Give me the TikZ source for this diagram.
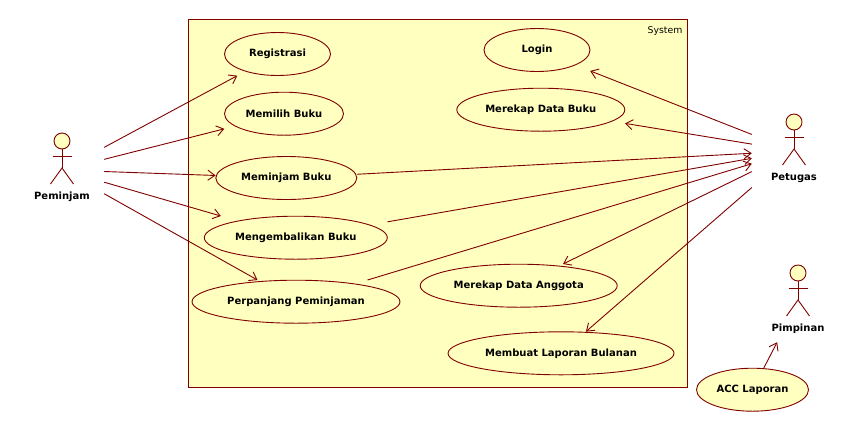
\documentclass[tikz,border=0pt]{standalone}
\usepackage{fontspec}
\setmainfont{DejaVu Sans}
\usetikzlibrary{calc,arrows.meta}
\definecolor{umlline}{RGB}{128,0,0}
\definecolor{umlfill}{RGB}{255,255,192}
\tikzset{
	ucshape/.style={draw=umlline, fill=umlfill, line width=0.9pt},
	ucbox/.style={rectangle, minimum height=43pt, inner sep=0pt, font=\fontsize{10}{12}\selectfont\bfseries},
	actor/.style={rectangle, minimum width=84pt, minimum height=80pt, inner sep=0pt},
	actorname/.style={inner sep=0pt, font=\fontsize{10}{12}\selectfont\bfseries},
	assoc/.style={draw=umlline, line width=0.9pt, -{Straight Barb[length=7pt,width=10pt]}}
}
\def\usecase(#1)(#2)(#3)#4{
	\draw[ucshape] (#2) ellipse ({#3*0.5pt} and 21.5pt);
	\node[ucbox, minimum width=#3pt] (#1) at (#2) {#4};
}
\def\stickman(#1){
	\draw[umlline, line width=0.9pt, fill=umlfill] ($(#1)+(0,-29)$) circle (8pt);
	\draw[umlline, line width=0.9pt] ($(#1)+(0,-21)$) -- ($(#1)+(0,-2)$);
	\draw[umlline, line width=0.9pt] ($(#1)+(-9.5,-14)$) -- ($(#1)+(9.5,-14)$);
	\draw[umlline, line width=0.9pt] ($(#1)+(-11.5,14)$) -- ($(#1)+(0,-2)$) -- ($(#1)+(11.5,14)$);
}

\begin{document}
\begin{tikzpicture}[x=1pt, y=-1pt]
			%%%%% START %%%%%
			\useasboundingbox (0,0) rectangle (861,432);
			
			\draw[umlline, fill=umlfill, line width=0.9pt] (188,19) rectangle (687,387);
			\node[inner sep=0pt, font=\fontsize{9.3}{11}\selectfont] (system) at (665,31) {System};
			
			% use cases
			\usecase(registrasi)(277.5,54)(106){Registrasi}
			\usecase(memilih)(284,113.7)(119){Memilih Buku}
			\usecase(meminjam)(286.3,178)(141){Meminjam Buku}
			\usecase(kembali)(295.8,237.7)(183){Mengembalikan Buku}
			\usecase(perpanjang)(296,301.7)(208){Perpanjang Peminjaman}
			\usecase(login)(537,50)(106){Login}
			\usecase(rekapbuku)(540.8,109.7)(168){Merekap Data Buku}
			\usecase(rekapanggota)(518.7,285.7)(197){Merekap Data Anggota}
			\usecase(laporan)(561,353.3)(226){Membuat Laporan Bulanan}
			\usecase(acc)(752.5,389.7)(112){ACC Laporan}
			
			% actors
			\node[actor] (peminjam) at (62,170) {};
			\stickman(peminjam)
			\node[actorname] (peminjamname) at ($(peminjam)+(0,27)$) {Peminjam};
			
			\node[actor] (petugas) at (794,151) {};
			\stickman(petugas)
			\node[actorname] (petugasname) at ($(petugas)+(0,27)$) {Petugas};
			
			\node[actor] (pimpinan) at (798,302) {};
			\stickman(pimpinan)
			\node[actorname] (pimpinanname) at ($(pimpinan)+(0,27)$) {Pimpinan};
			
			% associations
			\draw[assoc] (peminjam) -- (registrasi);
			\draw[assoc] (peminjam) -- (memilih);
			\draw[assoc] (peminjam) -- (meminjam);
			\draw[assoc] (peminjam) -- (kembali);
			\draw[assoc] (peminjam) -- (perpanjang);
			
			\draw[assoc] (petugas) -- (login);
			\draw[assoc] (petugas) -- (rekapbuku);
			\draw[assoc] (meminjam) -- (petugas);
			\draw[assoc] (kembali) -- (petugas);
			\draw[assoc] (perpanjang) -- (petugas);
			\draw[assoc] (petugas) -- (rekapanggota);
			\draw[assoc] (petugas) -- (laporan);
			
			\draw[assoc] (acc) -- (pimpinan);
			%%%%% END %%%%%
\end{tikzpicture}
\end{document}
